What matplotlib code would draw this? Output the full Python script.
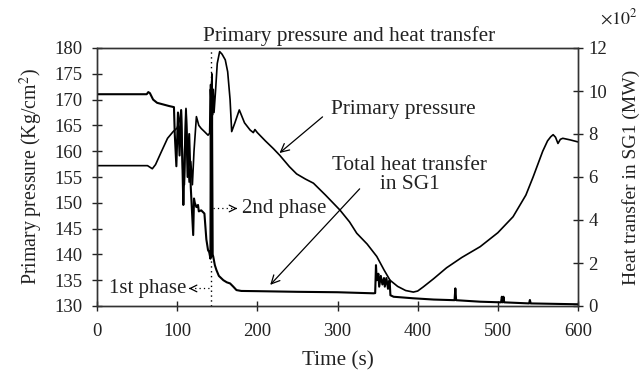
import matplotlib
matplotlib.use("Agg")
import matplotlib.pyplot as plt

plt.rcParams['font.family'] = ['Liberation Serif', 'DejaVu Serif']
plt.rcParams['mathtext.fontset'] = 'stix'
plt.rcParams['font.size'] = 13.5

# Primary pressure (Kg/cm^2), left axis
t_pressure = [0, 63, 66, 69, 73, 80, 88, 95, 100, 103, 105, 107, 109, 111, 113, 115,
              117, 119, 121, 124, 127, 130, 134, 138.5, 140.5, 141.5, 142.5, 143.3,
              144, 145, 146, 148, 150, 153, 156, 160, 163, 166, 168, 172, 177.5, 184,
              191, 195, 197, 200, 210, 220, 228, 240, 249, 260, 270, 285, 303, 315,
              324, 337, 349, 358, 365.5, 375, 385, 394.6, 400, 407, 420, 436, 455,
              478, 500, 519, 535, 544, 550, 556, 562, 566, 569, 572, 575, 578, 581,
              590, 600]
pressure = [157.2, 157.2, 156.9, 156.6, 157.4, 159.8, 162.5, 163.8, 164.5, 166, 168,
            156.5, 153.5, 168.3, 160, 154, 158, 153.5, 160, 166.7, 165, 164.4, 163.8,
            163.1, 163.5, 172, 169, 175, 167, 172, 167.5, 172, 177, 179.3, 178.8,
            177.7, 175.4, 170, 163.8, 165.5, 168, 165.5, 164.1, 163.6, 164.2, 163.6,
            162, 160.5, 159.2, 157, 155.6, 154.6, 153.8, 151.5, 148.6, 146.3, 144.1,
            142, 139.6, 137, 135, 133.8, 133, 132.7, 132.9, 133.7, 135.3, 137.4,
            139.4, 141.5, 144.2, 147.3, 151.5, 155, 157.5, 160, 162, 162.8, 163.2,
            162.7, 161.5, 162.3, 162.5, 162.2, 161.8]

# Total heat transfer in SG1 (x10^2 MW), right axis
t_heat = [0, 62, 64, 66, 70, 75, 80, 90, 96, 97, 99, 101, 103, 105, 107.7, 109, 111,
          113, 115, 117, 120, 121, 122, 124, 126, 127, 130, 134, 136.4, 138.5, 140,
          141.5, 142, 142.5, 143.5, 144.3, 145, 147, 149, 152, 157.6, 162, 166, 170,
          174, 180, 200, 250, 300, 345, 347, 348, 349, 351, 352, 354, 356, 358, 359,
          361, 363, 365, 366, 370, 394, 420, 446, 447, 448, 478, 504, 505, 506, 507,
          508, 539, 540, 541, 600]
heat = [9.85, 9.85, 9.95, 9.9, 9.6, 9.45, 9.4, 9.3, 9.25, 8.0, 6.5, 9.0, 7.0, 9.1, 4.7,
        6.5, 9.1, 6.0, 8.0, 5.5, 3.3, 5.0, 4.8, 4.6, 4.7, 4.4, 4.45, 4.3, 3.1, 2.6, 2.5,
        2.2, 10.3, 2.3, 9.0, 2.4, 2.3, 1.9, 1.67, 1.4, 1.2, 1.1, 1.05, 0.9, 0.74, 0.70,
        0.69, 0.66, 0.64, 0.59, 0.6, 1.9, 1.2, 1.5, 0.9, 1.4, 1.0, 1.3, 0.9, 1.3, 0.8,
        1.2, 0.5, 0.43, 0.36, 0.30, 0.27, 0.82, 0.27, 0.20, 0.17, 0.43, 0.17, 0.43, 0.17,
        0.12, 0.28, 0.12, 0.08]

x_ticks = [0, 100, 200, 300, 400, 500, 600]
p_ticks = [130, 135, 140, 145, 150, 155, 160, 165, 170, 175, 180]
h_ticks = [0, 2, 4, 6, 8, 10, 12]
phase_time = 142

fig = plt.figure(figsize=(6.39, 3.72), dpi=100)
ax = fig.add_axes([97/639, 1-306/372, (578-97)/639, (306-48)/372])
ax2 = ax.twinx()

ax.plot(t_pressure, pressure, color='black', lw=1.2)
ax2.plot(t_heat, heat, color='black', lw=1.5)

ax.set_xlim(0, 600)
ax.set_ylim(130, 180)
ax2.set_ylim(0, 12)
ax.set_xticks(x_ticks)
ax.set_yticks(p_ticks)
ax2.set_yticks(h_ticks)

for a in (ax, ax2):
    a.tick_params(direction='inout', length=7, width=1, colors='#222222', labelcolor='#222222')
    for s in a.spines.values():
        s.set_color('#333333')
        s.set_linewidth(1.0)
ax.tick_params(axis='x', pad=9)
ax.tick_params(axis='y', pad=7)
ax2.tick_params(axis='y', pad=4)

ax.set_xlabel('Time (s)', labelpad=8, color='#222222', fontsize=15.3)
ax.set_ylabel(r'Primary pressure (Kg/cm$^2$)', labelpad=7, color='#222222', fontsize=14.3)
ax2.set_ylabel('Heat transfer in SG1 (MW)', labelpad=11, color='#222222', fontsize=14)
ax.set_title('Primary pressure and heat transfer', pad=5, color='#222222', fontsize=15.3,
             x=0.524)
fig.text(600/639, 1-18/372, r'$\times10^2$', ha='left', va='center', color='#222222',
         fontsize=13)

# phase divider
ax.axvline(phase_time, color='black', ls=(0, (1, 2.5)), lw=1.0)

# 2nd phase arrow
ax.plot([144.7, 172], [148.9, 148.9], color='black', ls=(0, (1, 2.5)), lw=0.9)
ax.annotate('', xy=(175, 148.9), xytext=(170, 148.9),
            arrowprops=dict(arrowstyle='->', lw=0.9, color='black', mutation_scale=12))
ax.text(181, 148.9, '2nd phase', ha='left', va='center', color='#222222', fontsize=15)

# 1st phase arrow
ax.plot([139.5, 117], [133.4, 133.4], color='black', ls=(0, (1, 2.5)), lw=0.9)
ax.annotate('', xy=(114.5, 133.4), xytext=(119.5, 133.4),
            arrowprops=dict(arrowstyle='->', lw=0.9, color='black', mutation_scale=12))
ax.text(112, 133.4, '1st phase', ha='right', va='center', color='#222222', fontsize=15)

# Primary pressure pointer
ax.annotate('', xy=(225, 159.3), xytext=(284, 167),
            arrowprops=dict(arrowstyle='->', lw=0.9, color='black', mutation_scale=15))
ax.text(292, 168, 'Primary pressure', ha='left', va='center', color='#222222', fontsize=15.3)

# Heat transfer pointer
ax.annotate('', xy=(213.7, 133.7), xytext=(330, 153.1),
            arrowprops=dict(arrowstyle='->', lw=0.9, color='black', mutation_scale=15))
ax.text(390, 155.3, 'Total heat transfer\nin SG1', ha='center', va='center',
        linespacing=1.0, color='#222222', fontsize=15.3)

fig.savefig('out.png', dpi=100)
